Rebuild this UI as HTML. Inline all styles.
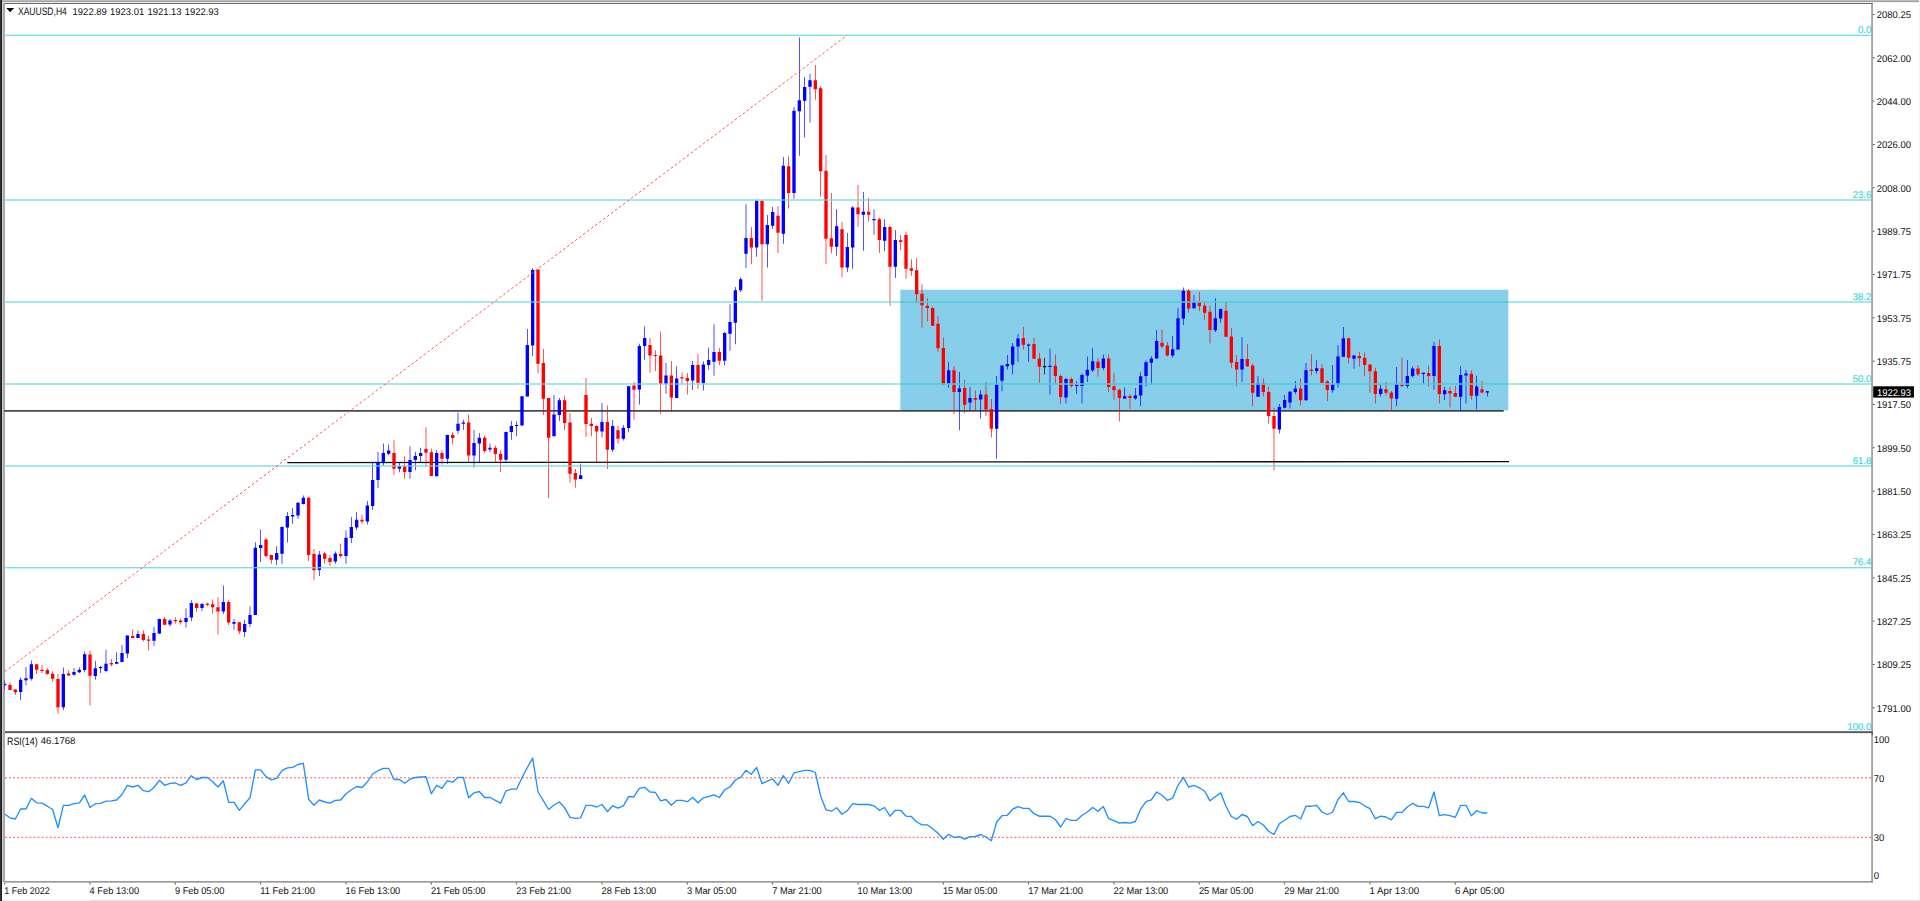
<!DOCTYPE html>
<html><head><meta charset="utf-8"><title>XAUUSD,H4</title>
<style>
html,body{margin:0;padding:0;background:#fff;overflow:hidden}
body{width:1920px;height:901px;position:relative;font-family:"Liberation Sans",sans-serif}
svg{position:absolute;left:0;top:0;display:block}
text{font-family:"Liberation Sans",sans-serif;font-size:9.8px;fill:#111;text-rendering:geometricPrecision}
.f{fill:#45d6e0;stroke:#45d6e0;stroke-width:0.2px}
</style></head><body>
<svg width="1920" height="901" viewBox="0 0 1920 901">
<rect x="0" y="0" width="1920" height="901" fill="#fff"/>
<g shape-rendering="crispEdges">
<rect x="2" y="0" width="1917" height="1" fill="#bcbcbc"/>
<rect x="2" y="1" width="1917" height="1" fill="#a0a0a0"/>
<rect x="2" y="2" width="1917" height="1" fill="#f0f0f0"/>
<rect x="1919" y="0" width="1" height="901" fill="#f4f4f4"/>
<rect x="2" y="899" width="1918" height="1" fill="#fafafa"/>
<rect x="2" y="900" width="1918" height="1" fill="#e0e0e0"/>
<rect x="6" y="900" width="84" height="1" fill="#f4f4f4"/>
<rect x="2" y="2" width="1" height="880" fill="#d4d4d4"/>
<rect x="3" y="3" width="2" height="879" fill="#a8a8a8"/>
<rect x="4" y="3" width="1869" height="1" fill="#696969"/>
<rect x="0" y="0" width="1" height="901" fill="#323232"/>
<rect x="1" y="0" width="1" height="901" fill="#1c1c1c"/>
</g>
<defs><clipPath id="cm"><rect x="4.3" y="4" width="1867" height="727.3"/></clipPath><clipPath id="cr"><rect x="5" y="733" width="1866.3" height="148"/></clipPath></defs>
<g clip-path="url(#cm)">
<rect x="900.3" y="289.7" width="608" height="120.6" fill="#87ceeb"/>
<rect x="4" y="410.25" width="1499.7" height="1.3" fill="#0c0c0c"/>
<line x1="287.3" y1="462.55" x2="1509" y2="461.55" stroke="#0c0c0c" stroke-width="1.3"/>
<path fill="#0000ff" d="M4.33 680.4h0.68V690.0h-0.68zM20.33 677.5h0.68V700.0h-0.68zM25.66 667.0h0.68V685.6h-0.68zM30.99 660.4h0.68V680.5h-0.68zM62.99 667.6h0.68V710.0h-0.68zM73.66 668.1h0.68V675.4h-0.68zM78.99 667.2h0.68V672.9h-0.68zM84.33 651.6h0.68V672.2h-0.68zM94.99 661.0h0.68V679.8h-0.68zM100.33 665.8h0.68V672.9h-0.68zM105.66 649.8h0.68V672.2h-0.68zM116.33 652.2h0.68V664.1h-0.68zM121.66 645.1h0.68V662.2h-0.68zM126.99 635.6h0.68V658.2h-0.68zM137.66 630.4h0.68V638.2h-0.68zM153.66 627.0h0.68V645.8h-0.68zM158.99 618.5h0.68V634.1h-0.68zM169.66 619.1h0.68V626.6h-0.68zM185.66 608.5h0.68V627.5h-0.68zM190.99 600.2h0.68V621.3h-0.68zM201.66 603.0h0.68V611.3h-0.68zM222.99 585.5h0.68V614.1h-0.68zM233.66 619.1h0.68V629.8h-0.68zM244.33 619.7h0.68V637.0h-0.68zM249.66 606.2h0.68V626.9h-0.68zM254.99 542.2h0.68V615.0h-0.68zM260.33 529.4h0.68V561.9h-0.68zM276.33 546.2h0.68V565.0h-0.68zM281.66 526.2h0.68V563.8h-0.68zM286.99 511.9h0.68V542.5h-0.68zM292.33 508.1h0.68V523.8h-0.68zM297.66 501.9h0.68V518.8h-0.68zM302.99 495.4h0.68V504.4h-0.68zM318.99 551.0h0.68V575.9h-0.68zM334.99 551.5h0.68V563.8h-0.68zM345.66 530.2h0.68V563.8h-0.68zM350.99 516.9h0.68V543.1h-0.68zM356.33 512.1h0.68V530.0h-0.68zM366.99 501.0h0.68V524.4h-0.68zM372.33 462.5h0.68V510.0h-0.68zM377.66 451.9h0.68V488.1h-0.68zM382.99 443.5h0.68V465.6h-0.68zM388.33 444.4h0.68V455.0h-0.68zM398.99 462.5h0.68V472.2h-0.68zM409.66 446.2h0.68V478.8h-0.68zM414.99 451.9h0.68V470.2h-0.68zM420.33 447.8h0.68V462.2h-0.68zM436.33 450.2h0.68V476.5h-0.68zM446.99 434.8h0.68V464.0h-0.68zM457.66 412.4h0.68V433.8h-0.68zM462.99 419.8h0.68V429.8h-0.68zM473.66 430.0h0.68V467.5h-0.68zM478.99 433.1h0.68V461.9h-0.68zM489.66 443.8h0.68V452.2h-0.68zM505.66 431.5h0.68V461.9h-0.68zM510.99 421.0h0.68V439.8h-0.68zM516.33 421.5h0.68V436.2h-0.68zM521.66 396.2h0.68V425.6h-0.68zM526.99 329.0h0.68V396.6h-0.68zM532.33 268.1h0.68V356.2h-0.68zM553.66 395.0h0.68V436.2h-0.68zM558.99 398.1h0.68V421.0h-0.68zM580.33 463.8h0.68V479.0h-0.68zM601.66 403.1h0.68V437.5h-0.68zM612.33 420.2h0.68V451.9h-0.68zM622.99 425.0h0.68V440.6h-0.68zM628.33 386.0h0.68V432.2h-0.68zM638.99 343.8h0.68V404.4h-0.68zM644.33 326.2h0.68V359.8h-0.68zM665.66 363.1h0.68V393.8h-0.68zM676.33 366.2h0.68V397.9h-0.68zM692.33 361.0h0.68V390.0h-0.68zM702.99 361.2h0.68V390.6h-0.68zM708.33 347.5h0.68V369.7h-0.68zM713.66 324.2h0.68V375.8h-0.68zM724.33 331.7h0.68V365.3h-0.68zM729.66 304.2h0.68V350.8h-0.68zM734.99 287.0h0.68V344.2h-0.68zM740.33 277.5h0.68V292.0h-0.68zM745.66 204.2h0.68V268.0h-0.68zM756.33 200.0h0.68V256.7h-0.68zM766.99 215.0h0.68V267.5h-0.68zM772.33 207.0h0.68V228.7h-0.68zM782.99 157.0h0.68V243.7h-0.68zM793.66 107.0h0.68V198.7h-0.68zM798.99 37.5h0.68V155.8h-0.68zM804.33 77.0h0.68V137.5h-0.68zM809.66 73.7h0.68V122.5h-0.68zM836.33 209.2h0.68V255.8h-0.68zM846.99 233.0h0.68V272.0h-0.68zM852.33 206.3h0.68V268.7h-0.68zM862.99 192.0h0.68V250.8h-0.68zM873.66 209.2h0.68V234.7h-0.68zM884.33 219.2h0.68V251.3h-0.68zM894.99 230.0h0.68V278.0h-0.68zM948.33 361.7h0.68V387.7h-0.68zM958.99 372.0h0.68V430.2h-0.68zM969.66 386.9h0.68V410.2h-0.68zM980.33 390.2h0.68V418.6h-0.68zM996.33 375.9h0.68V458.7h-0.68zM1001.66 365.5h0.68V391.2h-0.68zM1006.99 355.1h0.68V369.4h-0.68zM1012.33 343.1h0.68V374.5h-0.68zM1017.66 334.1h0.68V362.0h-0.68zM1028.33 343.4h0.68V362.0h-0.68zM1049.66 348.4h0.68V394.5h-0.68zM1065.66 377.9h0.68V403.4h-0.68zM1076.33 381.2h0.68V394.1h-0.68zM1081.66 373.4h0.68V403.4h-0.68zM1086.99 356.6h0.68V381.9h-0.68zM1092.33 347.7h0.68V372.0h-0.68zM1102.99 354.6h0.68V370.2h-0.68zM1124.33 387.4h0.68V398.8h-0.68zM1134.99 387.9h0.68V399.8h-0.68zM1140.33 372.2h0.68V406.2h-0.68zM1145.66 360.5h0.68V386.2h-0.68zM1150.99 356.3h0.68V384.5h-0.68zM1156.33 329.9h0.68V358.5h-0.68zM1172.33 335.9h0.68V357.8h-0.68zM1177.66 307.8h0.68V349.6h-0.68zM1182.99 287.4h0.68V324.9h-0.68zM1193.66 295.0h0.68V308.5h-0.68zM1214.99 298.3h0.68V332.1h-0.68zM1220.33 308.5h0.68V322.8h-0.68zM1241.66 337.1h0.68V382.0h-0.68zM1257.66 376.3h0.68V397.0h-0.68zM1278.99 403.9h0.68V433.5h-0.68zM1284.33 395.0h0.68V408.5h-0.68zM1289.66 391.1h0.68V408.5h-0.68zM1294.99 381.0h0.68V394.2h-0.68zM1305.66 363.1h0.68V400.6h-0.68zM1316.33 360.2h0.68V373.5h-0.68zM1332.33 364.9h0.68V392.7h-0.68zM1337.66 344.9h0.68V387.7h-0.68zM1342.99 327.1h0.68V357.1h-0.68zM1353.66 354.9h0.68V368.8h-0.68zM1380.33 384.5h0.68V396.7h-0.68zM1396.33 367.1h0.68V406.3h-0.68zM1406.99 359.9h0.68V388.2h-0.68zM1412.33 366.4h0.68V377.4h-0.68zM1422.99 372.6h0.68V383.6h-0.68zM1433.66 341.8h0.68V389.7h-0.68zM1444.33 386.8h0.68V400.0h-0.68zM1460.33 366.4h0.68V410.7h-0.68zM1465.66 370.0h0.68V403.5h-0.68zM1476.33 375.7h0.68V409.2h-0.68zM1486.99 391.1h0.68V396.4h-0.68z"/>
<path fill="#0000ff" d="M3.00 683.8h3.34V685.2h-3.34zM19.00 679.8h3.34V692.0h-3.34zM24.33 678.2h3.34V680.2h-3.34zM29.66 664.2h3.34V678.8h-3.34zM61.66 673.9h3.34V707.2h-3.34zM72.33 671.9h3.34V674.8h-3.34zM77.66 669.8h3.34V672.2h-3.34zM83.00 654.2h3.34V670.0h-3.34zM93.66 668.2h3.34V676.0h-3.34zM99.00 667.0h3.34V668.2h-3.34zM104.33 663.8h3.34V671.0h-3.34zM115.00 662.0h3.34V663.8h-3.34zM120.33 653.0h3.34V661.9h-3.34zM125.66 635.6h3.34V653.5h-3.34zM136.33 634.0h3.34V638.0h-3.34zM152.33 633.0h3.34V640.8h-3.34zM157.66 618.9h3.34V633.5h-3.34zM168.33 620.4h3.34V624.5h-3.34zM184.33 617.9h3.34V622.0h-3.34zM189.66 603.0h3.34V617.5h-3.34zM200.33 604.0h3.34V608.1h-3.34zM221.66 601.9h3.34V611.5h-3.34zM232.33 621.9h3.34V623.8h-3.34zM243.00 624.1h3.34V631.9h-3.34zM248.33 615.0h3.34V624.0h-3.34zM253.66 547.8h3.34V615.0h-3.34zM259.00 545.0h3.34V548.1h-3.34zM275.00 553.0h3.34V559.8h-3.34zM280.33 526.9h3.34V553.8h-3.34zM285.66 516.0h3.34V527.6h-3.34zM291.00 515.1h3.34V516.4h-3.34zM296.33 502.8h3.34V515.6h-3.34zM301.66 497.8h3.34V504.0h-3.34zM317.66 554.4h3.34V570.0h-3.34zM333.66 553.5h3.34V561.6h-3.34zM344.33 537.8h3.34V556.0h-3.34zM349.66 526.9h3.34V538.1h-3.34zM355.00 519.8h3.34V527.5h-3.34zM365.66 505.6h3.34V521.5h-3.34zM371.00 480.0h3.34V506.0h-3.34zM376.33 462.5h3.34V480.0h-3.34zM381.66 453.1h3.34V463.1h-3.34zM387.00 450.4h3.34V453.8h-3.34zM397.66 466.2h3.34V468.8h-3.34zM408.33 460.0h3.34V471.9h-3.34zM413.66 456.0h3.34V460.0h-3.34zM419.00 453.1h3.34V456.0h-3.34zM435.00 453.1h3.34V476.2h-3.34zM445.66 435.0h3.34V458.8h-3.34zM456.33 423.8h3.34V430.7h-3.34zM461.66 422.6h3.34V423.8h-3.34zM472.33 443.1h3.34V455.6h-3.34zM477.66 437.8h3.34V443.5h-3.34zM488.33 447.8h3.34V449.4h-3.34zM504.33 431.9h3.34V459.8h-3.34zM509.66 426.0h3.34V431.9h-3.34zM515.00 424.9h3.34V426.1h-3.34zM520.33 396.2h3.34V425.6h-3.34zM525.66 345.0h3.34V396.6h-3.34zM531.00 270.0h3.34V345.6h-3.34zM552.33 414.4h3.34V436.2h-3.34zM557.66 400.2h3.34V415.0h-3.34zM579.00 475.2h3.34V479.0h-3.34zM600.33 421.9h3.34V431.5h-3.34zM611.00 426.0h3.34V449.8h-3.34zM621.66 427.8h3.34V438.8h-3.34zM627.00 386.2h3.34V428.1h-3.34zM637.66 346.0h3.34V389.4h-3.34zM643.00 338.1h3.34V346.0h-3.34zM664.33 375.6h3.34V383.8h-3.34zM675.00 378.5h3.34V397.9h-3.34zM691.00 365.0h3.34V380.6h-3.34zM701.66 364.4h3.34V383.0h-3.34zM707.00 360.0h3.34V365.0h-3.34zM712.33 352.0h3.34V361.7h-3.34zM723.00 333.0h3.34V360.8h-3.34zM728.33 322.0h3.34V333.7h-3.34zM733.66 290.3h3.34V322.8h-3.34zM739.00 279.2h3.34V290.3h-3.34zM744.33 238.0h3.34V253.7h-3.34zM755.00 200.8h3.34V247.5h-3.34zM765.66 225.0h3.34V244.2h-3.34zM771.00 212.0h3.34V225.8h-3.34zM781.66 165.8h3.34V233.7h-3.34zM792.33 110.8h3.34V193.0h-3.34zM797.66 100.3h3.34V111.3h-3.34zM803.00 87.0h3.34V100.8h-3.34zM808.33 80.3h3.34V86.7h-3.34zM835.00 226.3h3.34V246.7h-3.34zM845.66 247.0h3.34V267.5h-3.34zM851.00 207.5h3.34V247.5h-3.34zM861.66 211.7h3.34V214.7h-3.34zM872.33 219.0h3.34V220.2h-3.34zM883.00 227.0h3.34V240.8h-3.34zM893.66 240.0h3.34V266.7h-3.34zM947.00 370.2h3.34V383.4h-3.34zM957.66 388.4h3.34V391.9h-3.34zM968.33 397.9h3.34V402.6h-3.34zM979.00 394.5h3.34V399.4h-3.34zM995.00 384.5h3.34V428.8h-3.34zM1000.33 365.5h3.34V380.8h-3.34zM1005.66 364.1h3.34V366.2h-3.34zM1011.00 346.6h3.34V364.8h-3.34zM1016.33 338.4h3.34V346.6h-3.34zM1027.00 344.5h3.34V345.7h-3.34zM1048.33 365.8h3.34V367.0h-3.34zM1064.33 379.1h3.34V397.4h-3.34zM1075.00 384.8h3.34V386.0h-3.34zM1080.33 375.1h3.34V385.9h-3.34zM1085.66 369.8h3.34V375.5h-3.34zM1091.00 361.3h3.34V370.2h-3.34zM1101.66 358.4h3.34V368.0h-3.34zM1123.00 396.2h3.34V398.4h-3.34zM1133.66 395.5h3.34V398.4h-3.34zM1139.00 376.2h3.34V395.5h-3.34zM1144.33 362.2h3.34V375.9h-3.34zM1149.66 358.4h3.34V362.7h-3.34zM1155.00 341.1h3.34V358.5h-3.34zM1171.00 349.2h3.34V355.6h-3.34zM1176.33 318.2h3.34V349.6h-3.34zM1181.66 290.7h3.34V318.5h-3.34zM1192.33 302.1h3.34V308.3h-3.34zM1213.66 318.2h3.34V330.2h-3.34zM1219.00 309.0h3.34V318.5h-3.34zM1240.33 358.9h3.34V369.6h-3.34zM1256.33 383.0h3.34V396.7h-3.34zM1277.66 407.1h3.34V429.6h-3.34zM1283.00 400.0h3.34V407.8h-3.34zM1288.33 391.7h3.34V402.5h-3.34zM1293.66 388.5h3.34V392.0h-3.34zM1304.33 370.2h3.34V400.2h-3.34zM1315.00 368.2h3.34V370.9h-3.34zM1331.00 384.2h3.34V390.2h-3.34zM1336.33 356.4h3.34V384.5h-3.34zM1341.66 338.2h3.34V356.8h-3.34zM1352.33 355.6h3.34V358.8h-3.34zM1379.00 388.7h3.34V393.9h-3.34zM1395.00 384.2h3.34V398.7h-3.34zM1405.66 375.9h3.34V385.9h-3.34zM1411.00 368.6h3.34V376.0h-3.34zM1421.66 372.8h3.34V374.0h-3.34zM1432.33 346.0h3.34V376.0h-3.34zM1443.00 390.2h3.34V394.2h-3.34zM1459.00 375.0h3.34V396.8h-3.34zM1464.33 373.6h3.34V375.4h-3.34zM1475.00 386.4h3.34V395.7h-3.34zM1485.66 391.2h3.34V392.4h-3.34z"/>
<path fill="#ff0000" d="M9.66 682.2h0.68V690.0h-0.68zM14.99 689.1h0.68V695.0h-0.68zM36.33 664.2h0.68V674.1h-0.68zM41.66 665.0h0.68V672.9h-0.68zM46.99 667.9h0.68V674.8h-0.68zM52.33 671.6h0.68V681.6h-0.68zM57.66 674.1h0.68V713.8h-0.68zM68.33 670.4h0.68V676.0h-0.68zM89.66 650.4h0.68V705.4h-0.68zM110.99 659.1h0.68V666.2h-0.68zM132.33 629.5h0.68V638.2h-0.68zM142.99 630.5h0.68V641.6h-0.68zM148.33 635.8h0.68V650.4h-0.68zM164.33 617.0h0.68V625.6h-0.68zM174.99 617.2h0.68V623.5h-0.68zM180.33 618.5h0.68V624.8h-0.68zM196.33 603.0h0.68V611.9h-0.68zM206.99 602.5h0.68V606.2h-0.68zM212.33 599.6h0.68V613.8h-0.68zM217.66 597.2h0.68V634.5h-0.68zM228.33 600.2h0.68V625.1h-0.68zM238.99 621.9h0.68V634.0h-0.68zM265.66 537.5h0.68V557.5h-0.68zM270.99 554.8h0.68V563.8h-0.68zM308.33 497.2h0.68V561.0h-0.68zM313.66 549.0h0.68V580.2h-0.68zM324.33 551.5h0.68V563.8h-0.68zM329.66 555.0h0.68V566.2h-0.68zM340.33 543.5h0.68V557.8h-0.68zM361.66 514.4h0.68V524.0h-0.68zM393.66 440.2h0.68V474.8h-0.68zM404.33 456.2h0.68V478.8h-0.68zM425.66 427.2h0.68V466.5h-0.68zM430.99 448.5h0.68V476.0h-0.68zM441.66 450.0h0.68V464.8h-0.68zM452.33 432.2h0.68V444.4h-0.68zM468.33 414.4h0.68V461.9h-0.68zM484.33 435.6h0.68V452.8h-0.68zM494.99 445.6h0.68V462.8h-0.68zM500.33 450.2h0.68V471.9h-0.68zM537.66 268.9h0.68V373.5h-0.68zM542.99 349.0h0.68V415.0h-0.68zM548.33 398.1h0.68V498.0h-0.68zM564.33 395.6h0.68V430.2h-0.68zM569.66 413.1h0.68V482.8h-0.68zM574.99 469.0h0.68V487.8h-0.68zM585.66 378.1h0.68V436.9h-0.68zM590.99 418.1h0.68V436.2h-0.68zM596.33 425.0h0.68V462.8h-0.68zM606.99 405.6h0.68V469.0h-0.68zM617.66 426.0h0.68V443.8h-0.68zM633.66 381.9h0.68V419.8h-0.68zM649.66 338.1h0.68V372.8h-0.68zM654.99 350.2h0.68V371.0h-0.68zM660.33 331.5h0.68V413.8h-0.68zM670.99 361.0h0.68V411.9h-0.68zM681.66 372.2h0.68V383.5h-0.68zM686.99 373.1h0.68V394.4h-0.68zM697.66 353.8h0.68V388.8h-0.68zM718.99 348.0h0.68V365.3h-0.68zM750.99 227.0h0.68V264.2h-0.68zM761.66 200.8h0.68V300.8h-0.68zM777.66 206.3h0.68V253.0h-0.68zM788.33 156.3h0.68V208.7h-0.68zM814.99 65.0h0.68V99.7h-0.68zM820.33 86.3h0.68V196.7h-0.68zM825.66 155.0h0.68V264.2h-0.68zM830.99 193.0h0.68V253.3h-0.68zM841.66 222.0h0.68V277.5h-0.68zM857.66 185.0h0.68V226.7h-0.68zM868.33 198.0h0.68V221.3h-0.68zM878.99 217.5h0.68V253.0h-0.68zM889.66 225.8h0.68V305.8h-0.68zM900.33 235.0h0.68V250.0h-0.68zM905.66 231.7h0.68V278.7h-0.68zM910.99 259.2h0.68V275.8h-0.68zM916.33 258.3h0.68V303.3h-0.68zM921.66 284.2h0.68V327.5h-0.68zM926.99 298.3h0.68V321.3h-0.68zM932.33 306.7h0.68V325.8h-0.68zM937.66 316.3h0.68V351.7h-0.68zM942.99 337.5h0.68V385.3h-0.68zM953.66 366.0h0.68V414.1h-0.68zM964.33 379.8h0.68V413.3h-0.68zM974.99 390.5h0.68V410.5h-0.68zM985.66 381.9h0.68V416.2h-0.68zM990.99 399.1h0.68V437.6h-0.68zM1022.99 326.9h0.68V349.4h-0.68zM1033.66 338.0h0.68V358.8h-0.68zM1038.99 352.7h0.68V382.7h-0.68zM1054.99 354.6h0.68V383.7h-0.68zM1060.33 374.5h0.68V404.1h-0.68zM1070.99 377.4h0.68V387.7h-0.68zM1097.66 358.0h0.68V376.5h-0.68zM1108.33 354.6h0.68V391.9h-0.68zM1113.66 372.7h0.68V399.8h-0.68zM1118.99 388.8h0.68V421.6h-0.68zM1129.66 394.1h0.68V409.1h-0.68zM1161.66 329.7h0.68V348.2h-0.68zM1166.99 342.1h0.68V356.4h-0.68zM1188.33 288.9h0.68V312.5h-0.68zM1198.99 292.1h0.68V311.1h-0.68zM1204.33 301.1h0.68V319.7h-0.68zM1209.66 305.7h0.68V343.5h-0.68zM1225.66 302.1h0.68V336.8h-0.68zM1230.99 327.8h0.68V367.8h-0.68zM1236.33 354.9h0.68V386.3h-0.68zM1246.99 344.2h0.68V367.1h-0.68zM1252.33 363.5h0.68V406.3h-0.68zM1262.99 378.2h0.68V396.3h-0.68zM1268.33 386.4h0.68V423.5h-0.68zM1273.66 407.8h0.68V470.6h-0.68zM1300.33 378.2h0.68V405.6h-0.68zM1310.99 354.2h0.68V375.6h-0.68zM1321.66 364.2h0.68V383.0h-0.68zM1326.99 379.9h0.68V401.0h-0.68zM1348.33 337.8h0.68V363.5h-0.68zM1358.99 351.8h0.68V366.8h-0.68zM1364.33 352.5h0.68V376.3h-0.68zM1369.66 364.2h0.68V392.7h-0.68zM1374.99 367.8h0.68V403.4h-0.68zM1385.66 382.0h0.68V395.3h-0.68zM1390.99 391.1h0.68V410.2h-0.68zM1401.66 357.8h0.68V386.3h-0.68zM1417.66 365.0h0.68V376.0h-0.68zM1428.33 365.7h0.68V386.4h-0.68zM1438.99 339.5h0.68V403.6h-0.68zM1449.66 387.1h0.68V407.4h-0.68zM1454.99 385.7h0.68V397.1h-0.68zM1470.99 370.3h0.68V399.7h-0.68zM1481.66 381.1h0.68V393.5h-0.68z"/>
<path fill="#ff0000" d="M8.33 685.0h3.34V690.0h-3.34zM13.66 689.5h3.34V692.2h-3.34zM35.00 664.2h3.34V669.8h-3.34zM40.33 669.8h3.34V671.0h-3.34zM45.66 670.0h3.34V674.1h-3.34zM51.00 673.8h3.34V678.8h-3.34zM56.33 679.1h3.34V707.2h-3.34zM67.00 673.6h3.34V675.6h-3.34zM88.33 654.5h3.34V675.8h-3.34zM109.66 663.0h3.34V664.5h-3.34zM131.00 636.0h3.34V638.0h-3.34zM141.66 634.0h3.34V640.0h-3.34zM147.00 639.5h3.34V640.8h-3.34zM163.00 619.1h3.34V624.8h-3.34zM173.66 620.1h3.34V621.3h-3.34zM179.00 620.4h3.34V622.2h-3.34zM195.00 603.4h3.34V608.1h-3.34zM205.66 603.8h3.34V605.0h-3.34zM211.00 604.3h3.34V607.2h-3.34zM216.33 607.2h3.34V611.5h-3.34zM227.00 601.9h3.34V622.6h-3.34zM237.66 622.3h3.34V631.3h-3.34zM264.33 539.4h3.34V556.0h-3.34zM269.66 555.0h3.34V559.8h-3.34zM307.00 497.8h3.34V555.0h-3.34zM312.33 554.0h3.34V570.2h-3.34zM323.00 553.5h3.34V558.8h-3.34zM328.33 558.1h3.34V561.9h-3.34zM339.00 554.0h3.34V555.9h-3.34zM360.33 519.8h3.34V521.5h-3.34zM392.33 453.1h3.34V468.8h-3.34zM403.00 466.2h3.34V471.9h-3.34zM424.33 449.0h3.34V452.8h-3.34zM429.66 452.2h3.34V476.0h-3.34zM440.33 453.1h3.34V458.8h-3.34zM451.00 435.0h3.34V438.1h-3.34zM467.00 422.5h3.34V455.6h-3.34zM483.00 437.8h3.34V451.0h-3.34zM493.66 447.8h3.34V454.0h-3.34zM499.00 454.0h3.34V459.8h-3.34zM536.33 269.7h3.34V363.8h-3.34zM541.66 363.1h3.34V398.8h-3.34zM547.00 398.1h3.34V437.8h-3.34zM563.00 400.2h3.34V423.1h-3.34zM568.33 422.5h3.34V473.8h-3.34zM573.66 473.1h3.34V479.6h-3.34zM584.33 395.0h3.34V424.0h-3.34zM589.66 423.8h3.34V426.0h-3.34zM595.00 426.0h3.34V431.6h-3.34zM605.66 421.9h3.34V449.8h-3.34zM616.33 430.2h3.34V438.8h-3.34zM632.33 385.6h3.34V389.8h-3.34zM648.33 345.0h3.34V355.6h-3.34zM653.66 354.9h3.34V356.1h-3.34zM659.00 355.6h3.34V383.8h-3.34zM669.66 375.6h3.34V397.5h-3.34zM680.33 377.2h3.34V378.5h-3.34zM685.66 377.9h3.34V381.0h-3.34zM696.33 365.0h3.34V382.8h-3.34zM717.66 352.0h3.34V360.8h-3.34zM749.66 238.0h3.34V247.5h-3.34zM760.33 200.8h3.34V244.2h-3.34zM776.33 215.8h3.34V232.8h-3.34zM787.00 166.3h3.34V193.0h-3.34zM813.66 80.3h3.34V89.2h-3.34zM819.00 88.3h3.34V171.3h-3.34zM824.33 170.8h3.34V238.7h-3.34zM829.66 238.3h3.34V246.7h-3.34zM840.33 229.2h3.34V267.5h-3.34zM856.33 207.5h3.34V214.2h-3.34zM867.00 211.7h3.34V214.7h-3.34zM877.66 219.2h3.34V240.0h-3.34zM888.33 227.0h3.34V266.7h-3.34zM899.00 240.3h3.34V242.0h-3.34zM904.33 235.0h3.34V268.7h-3.34zM909.66 268.3h3.34V270.8h-3.34zM915.00 270.3h3.34V294.2h-3.34zM920.33 293.7h3.34V305.3h-3.34zM925.66 305.8h3.34V308.0h-3.34zM931.00 308.0h3.34V325.8h-3.34zM936.33 323.7h3.34V348.3h-3.34zM941.66 348.0h3.34V384.7h-3.34zM952.33 370.2h3.34V391.9h-3.34zM963.00 387.9h3.34V404.8h-3.34zM973.66 397.9h3.34V399.8h-3.34zM984.33 394.4h3.34V409.4h-3.34zM989.66 409.1h3.34V428.8h-3.34zM1021.66 338.1h3.34V344.8h-3.34zM1032.33 344.1h3.34V358.8h-3.34zM1037.66 358.4h3.34V366.7h-3.34zM1053.66 365.8h3.34V375.9h-3.34zM1059.00 375.9h3.34V396.9h-3.34zM1069.66 379.1h3.34V385.9h-3.34zM1096.33 361.7h3.34V368.0h-3.34zM1107.00 358.4h3.34V386.9h-3.34zM1112.33 386.2h3.34V390.2h-3.34zM1117.66 389.8h3.34V397.9h-3.34zM1128.33 395.9h3.34V397.9h-3.34zM1160.33 342.8h3.34V346.4h-3.34zM1165.66 345.6h3.34V355.6h-3.34zM1187.00 290.7h3.34V308.5h-3.34zM1197.66 302.1h3.34V306.0h-3.34zM1203.00 305.7h3.34V312.8h-3.34zM1208.33 311.7h3.34V329.9h-3.34zM1224.33 310.7h3.34V336.8h-3.34zM1229.66 336.4h3.34V362.8h-3.34zM1235.00 362.1h3.34V369.6h-3.34zM1245.66 358.9h3.34V366.3h-3.34zM1251.00 365.6h3.34V392.7h-3.34zM1261.66 383.0h3.34V392.0h-3.34zM1267.00 392.1h3.34V415.9h-3.34zM1272.33 415.9h3.34V428.8h-3.34zM1299.00 388.5h3.34V400.2h-3.34zM1309.66 369.8h3.34V371.0h-3.34zM1320.33 368.2h3.34V382.8h-3.34zM1325.66 381.6h3.34V389.9h-3.34zM1347.00 338.2h3.34V357.8h-3.34zM1357.66 355.9h3.34V358.2h-3.34zM1363.00 357.8h3.34V364.9h-3.34zM1368.33 364.5h3.34V371.3h-3.34zM1373.66 371.3h3.34V393.9h-3.34zM1384.33 389.2h3.34V392.7h-3.34zM1389.66 392.5h3.34V398.5h-3.34zM1400.33 384.5h3.34V386.3h-3.34zM1416.33 368.6h3.34V374.3h-3.34zM1427.00 373.1h3.34V376.0h-3.34zM1437.66 346.0h3.34V394.0h-3.34zM1448.33 391.1h3.34V393.5h-3.34zM1453.66 393.1h3.34V396.8h-3.34zM1469.66 373.8h3.34V395.7h-3.34zM1480.33 389.3h3.34V392.5h-3.34z"/>
<path fill="#000000" d="M1044.33 357.7h0.68V374.5h-0.68z"/>
<path fill="#000000" d="M1043.00 366.0h3.34V367.2h-3.34z"/>
<rect x="4" y="34.63" width="1868" height="1.34" fill="#63dde0" fill-opacity="0.9"/>
<rect x="4" y="199.33" width="1868" height="1.34" fill="#63dde0" fill-opacity="0.9"/>
<rect x="4" y="301.33" width="1868" height="1.34" fill="#63dde0" fill-opacity="0.9"/>
<rect x="900.3" y="301.33" width="608" height="1.34" fill="#3cc2d2" fill-opacity="0.6"/>
<rect x="4" y="383.33" width="1868" height="1.34" fill="#63dde0" fill-opacity="0.9"/>
<rect x="900.3" y="383.33" width="608" height="1.34" fill="#3cc2d2" fill-opacity="0.6"/>
<rect x="4" y="465.33" width="1868" height="1.34" fill="#63dde0" fill-opacity="0.9"/>
<rect x="4" y="567.03" width="1868" height="1.34" fill="#63dde0" fill-opacity="0.9"/>
<line x1="4.67" y1="671.7" x2="847" y2="35.3" stroke="#ff4040" stroke-width="1" stroke-dasharray="2.6 2.4" stroke-opacity="0.9"/>
</g>
<text class="f" x="1858.00" y="32.9" textLength="13.3" lengthAdjust="spacingAndGlyphs">0.0</text>
<text class="f" x="1852.70" y="197.6" textLength="18.6" lengthAdjust="spacingAndGlyphs">23.6</text>
<text class="f" x="1852.70" y="299.6" textLength="18.6" lengthAdjust="spacingAndGlyphs">38.2</text>
<text class="f" x="1852.70" y="381.6" textLength="18.6" lengthAdjust="spacingAndGlyphs">50.0</text>
<text class="f" x="1852.70" y="463.6" textLength="18.6" lengthAdjust="spacingAndGlyphs">61.8</text>
<text class="f" x="1852.70" y="565.3" textLength="18.6" lengthAdjust="spacingAndGlyphs">76.4</text>
<text class="f" x="1847.40" y="729.6" textLength="23.9" lengthAdjust="spacingAndGlyphs">100.0</text>
<g clip-path="url(#cr)">
<line x1="5" y1="777.8" x2="1871" y2="777.8" stroke="#ff3838" stroke-width="1" stroke-dasharray="2 2.07" stroke-opacity="0.85"/>
<line x1="5" y1="837.3" x2="1871" y2="837.3" stroke="#ff3838" stroke-width="1" stroke-dasharray="2 2.07" stroke-opacity="0.85"/>
<polyline points="4.67,814.0 10.00,817.8 15.33,819.0 20.67,809.0 26.00,809.0 31.33,798.3 36.67,802.8 42.00,803.2 47.33,806.2 52.67,809.5 58.00,827.8 63.33,805.3 68.67,805.3 74.00,803.7 79.33,802.8 84.67,795.0 90.00,807.5 95.33,803.7 100.67,803.3 106.00,801.2 111.33,800.8 116.67,800.0 122.00,794.5 127.33,785.3 132.67,787.0 138.00,785.3 143.33,790.7 148.67,791.7 154.00,787.5 159.33,780.3 164.67,785.3 170.00,783.3 175.33,783.0 180.67,785.3 186.00,782.8 191.33,775.7 196.67,779.5 202.00,777.5 207.33,777.5 212.67,781.7 218.00,787.0 223.33,780.8 228.67,802.3 234.00,802.3 239.33,810.3 244.67,803.7 250.00,797.8 255.33,769.8 260.67,769.8 266.00,776.7 271.33,779.8 276.67,778.3 282.00,770.7 287.33,767.8 292.67,767.3 298.00,764.5 303.33,763.3 308.67,799.2 314.00,805.3 319.33,800.0 324.67,802.0 330.00,803.2 335.33,800.3 340.67,800.0 346.00,793.7 351.33,789.8 356.67,786.5 362.00,787.5 367.33,782.0 372.67,774.0 378.00,770.7 383.33,768.3 388.67,768.3 394.00,779.5 399.33,779.5 404.67,783.2 410.00,779.2 415.33,777.5 420.67,777.0 426.00,776.7 431.33,793.7 436.67,785.3 442.00,788.3 447.33,780.7 452.67,782.3 458.00,777.3 463.33,777.3 468.67,797.8 474.00,792.8 479.33,791.5 484.67,797.5 490.00,797.5 495.33,800.3 500.67,803.2 506.00,790.8 511.33,789.2 516.67,789.0 522.00,777.8 527.33,767.5 532.67,758.2 538.00,792.0 543.33,800.7 548.67,809.5 554.00,805.0 559.33,802.0 564.67,807.8 570.00,817.3 575.33,818.3 580.67,817.8 586.00,805.3 591.33,805.3 596.67,807.0 602.00,804.5 607.33,811.7 612.67,805.8 618.00,808.2 623.33,805.8 628.67,796.7 634.00,796.7 639.33,788.3 644.67,787.3 650.00,792.0 655.33,792.3 660.67,800.8 666.00,799.5 671.33,805.3 676.67,800.3 682.00,800.3 687.33,801.7 692.67,797.5 698.00,802.8 703.33,797.8 708.67,796.7 714.00,794.8 719.33,797.5 724.67,789.8 730.00,787.0 735.33,780.0 740.67,777.3 746.00,770.3 751.33,774.2 756.67,767.5 762.00,783.7 767.33,781.2 772.67,779.0 778.00,785.3 783.33,775.7 788.67,783.3 794.00,772.8 799.33,771.7 804.67,770.3 810.00,770.3 815.33,772.5 820.67,796.2 826.00,809.8 831.33,811.2 836.67,807.8 842.00,814.2 847.33,810.7 852.67,803.7 858.00,804.5 863.33,804.5 868.67,804.5 874.00,805.8 879.33,810.3 884.67,807.5 890.00,816.2 895.33,810.3 900.67,810.3 906.00,816.2 911.33,816.5 916.67,822.0 922.00,824.8 927.33,824.8 932.67,828.7 938.00,833.2 943.33,839.2 948.67,834.2 954.00,837.5 959.33,836.7 964.67,839.2 970.00,836.7 975.33,836.5 980.67,834.5 986.00,837.0 991.33,840.8 996.67,822.0 1002.00,815.7 1007.33,815.3 1012.67,809.2 1018.00,806.7 1023.33,808.3 1028.67,808.3 1034.00,813.7 1039.33,816.2 1044.67,816.2 1050.00,816.2 1055.33,819.5 1060.67,827.0 1066.00,818.7 1071.33,820.3 1076.67,820.3 1082.00,815.3 1087.33,812.0 1092.67,807.5 1098.00,811.2 1103.33,806.5 1108.67,818.7 1114.00,820.7 1119.33,823.2 1124.67,822.5 1130.00,823.2 1135.33,821.5 1140.67,809.2 1146.00,801.7 1151.33,799.8 1156.67,792.0 1162.00,795.3 1167.33,800.3 1172.67,798.2 1178.00,785.3 1183.33,777.3 1188.67,787.0 1194.00,785.3 1199.33,787.8 1204.67,791.2 1210.00,800.8 1215.33,796.7 1220.67,792.8 1226.00,806.2 1231.33,816.5 1236.67,819.2 1242.00,814.5 1247.33,816.5 1252.67,825.7 1258.00,821.5 1263.33,825.0 1268.67,831.2 1274.00,834.5 1279.33,823.7 1284.67,820.3 1290.00,816.5 1295.33,815.3 1300.67,819.0 1306.00,806.2 1311.33,806.2 1316.67,805.3 1322.00,812.0 1327.33,814.5 1332.67,812.0 1338.00,799.5 1343.33,792.8 1348.67,801.5 1354.00,801.5 1359.33,802.5 1364.67,805.8 1370.00,808.7 1375.33,818.7 1380.67,816.2 1386.00,817.0 1391.33,819.8 1396.67,812.3 1402.00,812.3 1407.33,807.0 1412.67,803.3 1418.00,806.3 1423.33,806.3 1428.67,807.8 1434.00,792.0 1439.33,815.7 1444.67,814.7 1450.00,815.7 1455.33,817.3 1460.67,805.3 1466.00,805.3 1471.33,815.8 1476.67,810.7 1482.00,813.0 1487.33,813.0" fill="none" stroke="#1e90ff" stroke-width="1.35" stroke-linejoin="round"/>
</g>
<rect x="1871.2" y="4" width="1.7" height="878.6" fill="#9c9c9c"/>
<rect x="5" y="881.1" width="1867.9" height="1.5" fill="#909090"/>
<rect x="5" y="731.2" width="1867.6" height="1.9" fill="#585858"/>
<rect x="1871.8" y="732.8" width="1.1" height="1.9" fill="#444"/>
<rect x="1872.9" y="14.00" width="1.6" height="0.9" fill="#333"/>
<text x="1876.8" y="18.40" textLength="34.2" lengthAdjust="spacingAndGlyphs">2080.25</text>
<rect x="1872.9" y="57.33" width="1.6" height="0.9" fill="#333"/>
<text x="1876.8" y="61.73" textLength="34.2" lengthAdjust="spacingAndGlyphs">2062.00</text>
<rect x="1872.9" y="100.67" width="1.6" height="0.9" fill="#333"/>
<text x="1876.8" y="105.07" textLength="34.2" lengthAdjust="spacingAndGlyphs">2044.00</text>
<rect x="1872.9" y="144.00" width="1.6" height="0.9" fill="#333"/>
<text x="1876.8" y="148.40" textLength="34.2" lengthAdjust="spacingAndGlyphs">2026.00</text>
<rect x="1872.9" y="187.33" width="1.6" height="0.9" fill="#333"/>
<text x="1876.8" y="191.73" textLength="34.2" lengthAdjust="spacingAndGlyphs">2008.00</text>
<rect x="1872.9" y="230.66" width="1.6" height="0.9" fill="#333"/>
<text x="1876.8" y="235.06" textLength="34.2" lengthAdjust="spacingAndGlyphs">1989.75</text>
<rect x="1872.9" y="274.00" width="1.6" height="0.9" fill="#333"/>
<text x="1876.8" y="278.40" textLength="34.2" lengthAdjust="spacingAndGlyphs">1971.75</text>
<rect x="1872.9" y="317.33" width="1.6" height="0.9" fill="#333"/>
<text x="1876.8" y="321.73" textLength="34.2" lengthAdjust="spacingAndGlyphs">1953.75</text>
<rect x="1872.9" y="360.66" width="1.6" height="0.9" fill="#333"/>
<text x="1876.8" y="365.06" textLength="34.2" lengthAdjust="spacingAndGlyphs">1935.75</text>
<rect x="1872.9" y="404.00" width="1.6" height="0.9" fill="#333"/>
<text x="1876.8" y="408.40" textLength="34.2" lengthAdjust="spacingAndGlyphs">1917.50</text>
<rect x="1872.9" y="447.33" width="1.6" height="0.9" fill="#333"/>
<text x="1876.8" y="451.73" textLength="34.2" lengthAdjust="spacingAndGlyphs">1899.50</text>
<rect x="1872.9" y="490.66" width="1.6" height="0.9" fill="#333"/>
<text x="1876.8" y="495.06" textLength="34.2" lengthAdjust="spacingAndGlyphs">1881.50</text>
<rect x="1872.9" y="534.00" width="1.6" height="0.9" fill="#333"/>
<text x="1876.8" y="538.40" textLength="34.2" lengthAdjust="spacingAndGlyphs">1863.25</text>
<rect x="1872.9" y="577.33" width="1.6" height="0.9" fill="#333"/>
<text x="1876.8" y="581.73" textLength="34.2" lengthAdjust="spacingAndGlyphs">1845.25</text>
<rect x="1872.9" y="620.66" width="1.6" height="0.9" fill="#333"/>
<text x="1876.8" y="625.06" textLength="34.2" lengthAdjust="spacingAndGlyphs">1827.25</text>
<rect x="1872.9" y="664.00" width="1.6" height="0.9" fill="#333"/>
<text x="1876.8" y="668.39" textLength="34.2" lengthAdjust="spacingAndGlyphs">1809.25</text>
<rect x="1872.9" y="707.33" width="1.6" height="0.9" fill="#333"/>
<text x="1876.8" y="711.73" textLength="34.2" lengthAdjust="spacingAndGlyphs">1791.00</text>
<rect x="1873.2" y="386.3" width="40.7" height="11.3" fill="#000"/>
<text x="1876.9" y="395.6" textLength="34.1" lengthAdjust="spacingAndGlyphs" style="fill:#fff">1922.93</text>
<text x="1873.7" y="743.10" textLength="15.8" lengthAdjust="spacingAndGlyphs">100</text>
<text x="1873.7" y="781.80" textLength="10.5" lengthAdjust="spacingAndGlyphs">70</text>
<text x="1873.7" y="840.80" textLength="10.5" lengthAdjust="spacingAndGlyphs">30</text>
<text x="1873.7" y="878.70" textLength="5.3" lengthAdjust="spacingAndGlyphs">0</text>
<path d="M6.3 7.9h7.8l-3.9 4.3z" fill="#000"/>
<text x="18" y="14.9" textLength="48.8" lengthAdjust="spacingAndGlyphs" style="font-size:10.8px">XAUUSD,H4</text>
<text x="72.6" y="14.7" textLength="34.2" lengthAdjust="spacingAndGlyphs">1922.89</text>
<text x="110" y="14.7" textLength="34.2" lengthAdjust="spacingAndGlyphs">1923.01</text>
<text x="147.4" y="14.7" textLength="34.2" lengthAdjust="spacingAndGlyphs">1921.13</text>
<text x="184.7" y="14.7" textLength="34.2" lengthAdjust="spacingAndGlyphs">1922.93</text>
<text x="7" y="744.6" textLength="30.6" lengthAdjust="spacingAndGlyphs" style="font-size:10.8px">RSI(14)</text>
<text x="40.8" y="744.4" textLength="34.6" lengthAdjust="spacingAndGlyphs">46.1768</text>
<rect x="4.17" y="882.6" width="1" height="1.8" fill="#444"/>
<text x="4.27" y="893.9" textLength="45.6" lengthAdjust="spacingAndGlyphs">1 Feb 2022</text>
<rect x="89.50" y="882.6" width="1" height="1.8" fill="#444"/>
<text x="89.60" y="893.9" textLength="49.5" lengthAdjust="spacingAndGlyphs">4 Feb 13:00</text>
<rect x="174.83" y="882.6" width="1" height="1.8" fill="#444"/>
<text x="174.93" y="893.9" textLength="49.5" lengthAdjust="spacingAndGlyphs">9 Feb 05:00</text>
<rect x="260.17" y="882.6" width="1" height="1.8" fill="#444"/>
<text x="260.27" y="893.9" textLength="54.6" lengthAdjust="spacingAndGlyphs">11 Feb 21:00</text>
<rect x="345.50" y="882.6" width="1" height="1.8" fill="#444"/>
<text x="345.60" y="893.9" textLength="54.6" lengthAdjust="spacingAndGlyphs">16 Feb 13:00</text>
<rect x="430.83" y="882.6" width="1" height="1.8" fill="#444"/>
<text x="430.93" y="893.9" textLength="54.6" lengthAdjust="spacingAndGlyphs">21 Feb 05:00</text>
<rect x="516.16" y="882.6" width="1" height="1.8" fill="#444"/>
<text x="516.26" y="893.9" textLength="54.6" lengthAdjust="spacingAndGlyphs">23 Feb 21:00</text>
<rect x="601.50" y="882.6" width="1" height="1.8" fill="#444"/>
<text x="601.60" y="893.9" textLength="54.6" lengthAdjust="spacingAndGlyphs">28 Feb 13:00</text>
<rect x="686.83" y="882.6" width="1" height="1.8" fill="#444"/>
<text x="686.93" y="893.9" textLength="49.5" lengthAdjust="spacingAndGlyphs">3 Mar 05:00</text>
<rect x="772.16" y="882.6" width="1" height="1.8" fill="#444"/>
<text x="772.26" y="893.9" textLength="49.5" lengthAdjust="spacingAndGlyphs">7 Mar 21:00</text>
<rect x="857.50" y="882.6" width="1" height="1.8" fill="#444"/>
<text x="857.60" y="893.9" textLength="54.6" lengthAdjust="spacingAndGlyphs">10 Mar 13:00</text>
<rect x="942.83" y="882.6" width="1" height="1.8" fill="#444"/>
<text x="942.93" y="893.9" textLength="54.6" lengthAdjust="spacingAndGlyphs">15 Mar 05:00</text>
<rect x="1028.16" y="882.6" width="1" height="1.8" fill="#444"/>
<text x="1028.26" y="893.9" textLength="54.6" lengthAdjust="spacingAndGlyphs">17 Mar 21:00</text>
<rect x="1113.50" y="882.6" width="1" height="1.8" fill="#444"/>
<text x="1113.60" y="893.9" textLength="54.6" lengthAdjust="spacingAndGlyphs">22 Mar 13:00</text>
<rect x="1198.83" y="882.6" width="1" height="1.8" fill="#444"/>
<text x="1198.93" y="893.9" textLength="54.6" lengthAdjust="spacingAndGlyphs">25 Mar 05:00</text>
<rect x="1284.16" y="882.6" width="1" height="1.8" fill="#444"/>
<text x="1284.26" y="893.9" textLength="54.6" lengthAdjust="spacingAndGlyphs">29 Mar 21:00</text>
<rect x="1369.49" y="882.6" width="1" height="1.8" fill="#444"/>
<text x="1369.59" y="893.9" textLength="49.5" lengthAdjust="spacingAndGlyphs">1 Apr 13:00</text>
<rect x="1454.83" y="882.6" width="1" height="1.8" fill="#444"/>
<text x="1454.93" y="893.9" textLength="49.5" lengthAdjust="spacingAndGlyphs">6 Apr 05:00</text>
</svg>
</body></html>
